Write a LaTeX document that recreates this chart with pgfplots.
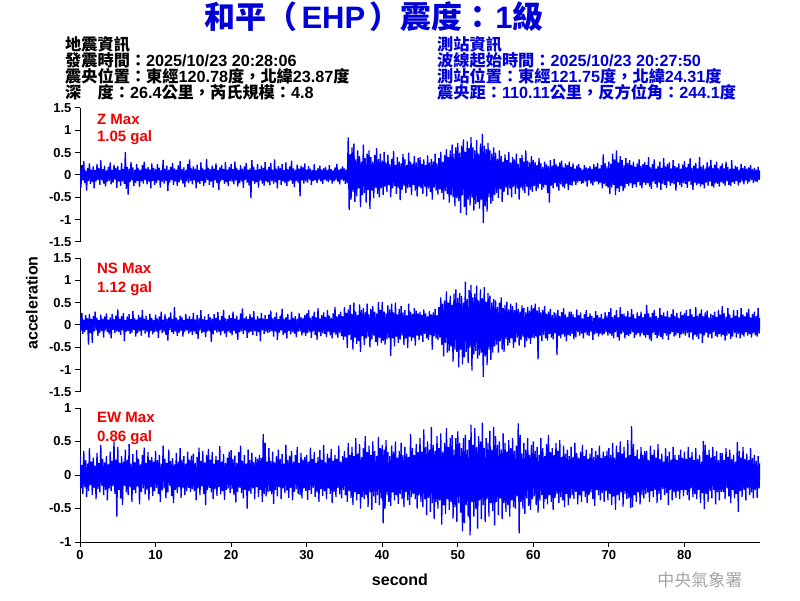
\documentclass[border=0pt]{standalone}
\usepackage{pgfplots}
\pgfplotsset{compat=1.18}
\usepackage{fontspec}
\setmainfont{Liberation Sans}
\newfontfamily\cjk{Noto Sans CJK TC}
\definecolor{tblue}{RGB}{0,0,215}
\definecolor{seisblue}{RGB}{0,0,255}
\definecolor{wm}{RGB}{165,165,165}
\definecolor{lred}{RGB}{240,0,0}
\pgfplotsset{
 panel/.style={scale only axis, width=680pt, height=134pt, xmin=0, xmax=90,
   axis y line*=left, axis line style={-, line width=1pt},
   tick style={black, line width=1pt}, tick align=outside, major tick length=5pt,
   tick label style={font=\fontsize{13}{13}\selectfont\bfseries},
   /pgf/number format/assume math mode=true, xtick={0,10,...,80}},
 seis/.style={color=seisblue, line width=1.3pt, line join=bevel, no markers, sharp plot},
}
\tikzset{lab/.style={anchor=west, text=lred, font=\fontsize{15}{15}\selectfont\bfseries}}
\begin{document}
\begin{tikzpicture}
\path[use as bounding box] (0pt,0pt) rectangle (800pt,600pt);
% title
\node[anchor=base, text=tblue, font=\fontsize{31}{33}\selectfont\bfseries] at (374pt,571pt) {{\cjk 和平（}\hspace{4pt}EHP\hspace{4pt}{\cjk ）震度：}\hspace{2pt}1{\cjk 級}};
% header
\begin{scope}[every node/.style={anchor=base west, inner sep=0pt, text height=12pt, text depth=2pt, font=\fontsize{16.2}{16.2}\selectfont\bfseries}]
\node at (65pt,549pt) {\cjk 地震資訊};
\node at (65pt,533pt) {{\cjk 發震時間：}2025/10/23 20:28:06};
\node at (65pt,517pt) {{\cjk 震央位置：東經}120.78{\cjk 度，北緯}23.87{\cjk 度}};
\node at (65pt,501pt) {{\cjk 深　度：}26.4{\cjk 公里，芮氏規模：}4.8};
\node[text=tblue] at (437pt,549pt) {\cjk 測站資訊};
\node[text=tblue] at (437pt,533pt) {{\cjk 波線起始時間：}2025/10/23 20:27:50};
\node[text=tblue] at (437pt,517pt) {{\cjk 測站位置：東經}121.75{\cjk 度，北緯}24.31{\cjk 度}};
\node[text=tblue] at (437pt,501pt) {{\cjk 震央距：}110.11{\cjk 公里，反方位角：}244.1{\cjk 度}};
\end{scope}
% panel Z
\begin{axis}[panel, at={(80pt,358pt)}, anchor=south west, axis x line=none,
  ymin=-1.5, ymax=1.5, ytick={-1.5,-1,...,1.5}]
\addplot[seis] table[row sep=\\, header=false, x expr=\coordindex*0.125, y index=0] {
0.14\\-0.28\\0.22\\-0.12\\0.31\\-0.18\\0.10\\-0.35\\0.16\\-0.13\\0.26\\-0.20\\0.12\\-0.16\\0.19\\-0.30\\0.11\\-0.14\\0.24\\-0.11\\
0.15\\-0.22\\0.33\\-0.12\\0.13\\-0.19\\0.21\\-0.26\\0.10\\-0.15\\0.18\\-0.13\\0.28\\-0.21\\0.12\\-0.17\\0.23\\-0.10\\0.16\\-0.29\\
0.20\\-0.14\\0.11\\-0.24\\0.27\\-0.15\\0.13\\-0.20\\0.51\\-0.31\\0.18\\-0.44\\0.14\\-0.16\\0.29\\-0.12\\0.17\\-0.25\\0.12\\-0.18\\
0.24\\-0.13\\0.15\\-0.27\\0.11\\-0.14\\0.22\\-0.19\\0.30\\-0.11\\0.14\\-0.21\\0.18\\-0.15\\0.12\\-0.30\\0.26\\-0.13\\0.16\\-0.22\\
0.13\\-0.18\\0.25\\-0.12\\0.16\\-0.28\\0.11\\-0.15\\0.34\\-0.19\\0.14\\-0.13\\0.21\\-0.36\\0.12\\-0.17\\0.18\\-0.11\\0.27\\-0.22\\
0.15\\-0.14\\0.12\\-0.25\\0.22\\-0.16\\0.31\\-0.12\\0.13\\-0.19\\0.17\\-0.27\\0.11\\-0.14\\0.24\\-0.18\\0.35\\-0.13\\0.15\\-0.21\\
0.19\\-0.12\\0.14\\-0.30\\0.23\\-0.16\\0.11\\-0.20\\0.28\\-0.13\\0.15\\-0.24\\0.12\\-0.17\\0.36\\-0.11\\0.16\\-0.22\\0.13\\-0.15\\
0.21\\-0.28\\0.14\\-0.12\\0.26\\-0.18\\0.11\\-0.33\\0.17\\-0.14\\0.22\\-0.11\\0.13\\-0.20\\0.29\\-0.16\\0.12\\-0.25\\0.18\\-0.13\\
0.24\\-0.15\\0.13\\-0.21\\0.30\\-0.12\\0.16\\-0.26\\0.11\\-0.18\\0.22\\-0.14\\0.14\\-0.29\\0.19\\-0.11\\0.27\\-0.17\\0.12\\-0.23\\
0.15\\-0.52\\0.33\\-0.13\\0.18\\-0.20\\0.11\\-0.16\\0.25\\-0.28\\0.13\\-0.12\\0.21\\-0.19\\0.16\\-0.24\\0.29\\-0.14\\0.12\\-0.17\\
0.18\\-0.23\\0.27\\-0.13\\0.12\\-0.19\\0.35\\-0.16\\0.14\\-0.30\\0.20\\-0.11\\0.16\\-0.22\\0.24\\-0.14\\0.11\\-0.18\\0.28\\-0.25\\
0.13\\-0.15\\0.19\\-0.12\\0.32\\-0.20\\0.15\\-0.27\\0.12\\-0.13\\0.23\\-0.17\\0.14\\-0.48\\0.21\\-0.12\\0.17\\-0.19\\0.26\\-0.14\\
0.12\\-0.17\\0.20\\-0.10\\0.14\\-0.22\\0.11\\-0.13\\0.24\\-0.12\\0.10\\-0.18\\0.16\\-0.11\\0.21\\-0.14\\0.12\\-0.20\\0.15\\-0.10\\
0.18\\-0.13\\0.11\\-0.16\\0.22\\-0.12\\0.13\\-0.19\\0.10\\-0.14\\0.17\\-0.11\\0.25\\-0.15\\0.12\\-0.21\\0.14\\-0.10\\0.19\\-0.13\\
0.15\\-0.20\\0.12\\-0.18\\0.84\\-0.78\\0.46\\-0.55\\0.62\\-0.38\\0.70\\-0.60\\0.35\\-0.48\\0.55\\-0.30\\0.42\\-0.72\\0.30\\-0.45\\
0.68\\-0.40\\0.38\\-0.62\\0.48\\-0.33\\0.55\\-0.76\\0.40\\-0.35\\0.30\\-0.52\\0.45\\-0.28\\0.60\\-0.42\\0.36\\-0.50\\0.48\\-0.30\\
0.32\\-0.45\\0.52\\-0.26\\0.28\\-0.38\\0.45\\-0.22\\0.24\\-0.50\\0.36\\-0.30\\0.54\\-0.25\\0.22\\-0.42\\0.40\\-0.28\\0.30\\-0.56\\
0.26\\-0.33\\0.47\\-0.24\\0.35\\-0.40\\0.22\\-0.30\\0.50\\-0.27\\0.30\\-0.45\\0.25\\-0.22\\0.42\\-0.35\\0.28\\-0.48\\0.38\\-0.26\\
0.40\\-0.30\\0.25\\-0.42\\0.35\\-0.26\\0.22\\-0.48\\0.44\\-0.30\\0.28\\-0.38\\0.36\\-0.55\\0.30\\-0.28\\0.48\\-0.35\\0.26\\-0.44\\
0.38\\-0.32\\0.52\\-0.40\\0.30\\-0.55\\0.45\\-0.36\\0.58\\-0.42\\0.40\\-0.62\\0.55\\-0.45\\0.68\\-0.50\\0.48\\-0.70\\0.62\\-0.52\\
0.72\\-0.58\\0.50\\-0.85\\0.66\\-0.45\\0.80\\-0.72\\0.52\\-0.90\\0.75\\-0.55\\0.60\\-0.68\\0.85\\-0.50\\0.62\\-0.80\\0.55\\-0.65\\
0.78\\-0.60\\0.48\\-0.75\\0.70\\-0.55\\0.92\\-1.08\\0.66\\-0.70\\0.58\\-0.82\\0.72\\-0.50\\0.55\\-0.64\\0.48\\-0.58\\0.62\\-0.45\\
0.50\\-0.40\\0.36\\-0.52\\0.55\\-0.32\\0.42\\-0.60\\0.30\\-0.38\\0.46\\-0.28\\0.33\\-0.45\\0.52\\-0.30\\0.28\\-0.50\\0.40\\-0.26\\
0.35\\-0.42\\0.48\\-0.30\\0.25\\-0.55\\0.38\\-0.28\\0.45\\-0.35\\0.30\\-0.40\\0.55\\-0.26\\0.32\\-0.46\\0.28\\-0.33\\0.42\\-0.38\\
0.34\\-0.25\\0.28\\-0.36\\0.22\\-0.30\\0.38\\-0.20\\0.26\\-0.33\\0.18\\-0.28\\0.30\\-0.22\\0.24\\-0.40\\0.20\\-0.62\\0.33\\-0.24\\
0.21\\-0.30\\0.36\\-0.18\\0.25\\-0.27\\0.19\\-0.35\\0.28\\-0.21\\0.32\\-0.26\\0.17\\-0.30\\0.26\\-0.19\\0.22\\-0.34\\0.30\\-0.22\\
0.18\\-0.24\\0.26\\-0.15\\0.14\\-0.22\\0.21\\-0.17\\0.25\\-0.13\\0.16\\-0.20\\0.12\\-0.18\\0.22\\-0.14\\0.17\\-0.26\\0.15\\-0.12\\
0.20\\-0.19\\0.13\\-0.23\\0.24\\-0.16\\0.18\\-0.14\\0.27\\-0.21\\0.15\\-0.17\\0.22\\-0.30\\0.46\\-0.20\\0.26\\-0.25\\0.19\\-0.28\\
0.30\\-0.42\\0.25\\-0.28\\0.48\\-0.22\\0.35\\-0.45\\0.55\\-0.30\\0.28\\-0.38\\0.42\\-0.25\\0.33\\-0.36\\0.22\\-0.30\\0.38\\-0.20\\
0.27\\-0.25\\0.33\\-0.18\\0.22\\-0.29\\0.30\\-0.21\\0.18\\-0.27\\0.26\\-0.16\\0.35\\-0.24\\0.20\\-0.30\\0.24\\-0.17\\0.29\\-0.22\\
0.22\\-0.18\\0.40\\-0.26\\0.17\\-0.31\\0.24\\-0.15\\0.35\\-0.20\\0.14\\-0.28\\0.21\\-0.17\\0.30\\-0.33\\0.16\\-0.19\\0.38\\-0.22\\
0.19\\-0.29\\0.25\\-0.14\\0.28\\-0.24\\0.15\\-0.18\\0.33\\-0.21\\0.20\\-0.35\\0.17\\-0.16\\0.26\\-0.22\\0.14\\-0.27\\0.23\\-0.18\\
0.31\\-0.20\\0.17\\-0.29\\0.24\\-0.15\\0.37\\-0.22\\0.16\\-0.34\\0.21\\-0.17\\0.27\\-0.23\\0.15\\-0.19\\0.40\\-0.26\\0.18\\-0.21\\
0.22\\-0.30\\0.14\\-0.17\\0.28\\-0.24\\0.19\\-0.15\\0.34\\-0.25\\0.16\\-0.28\\0.23\\-0.18\\0.30\\-0.20\\0.15\\-0.26\\0.20\\-0.16\\
0.26\\-0.19\\0.15\\-0.24\\0.30\\-0.14\\0.18\\-0.22\\0.13\\-0.25\\0.33\\-0.16\\0.14\\-0.20\\0.21\\-0.13\\0.18\\-0.23\\0.12\\-0.17\\
0.25\\-0.14\\0.16\\-0.21\\0.20\\-0.12\\0.14\\-0.19\\0.17\\-0.15\\0.22\\-0.11\\0.13\\-0.18\\0.16\\-0.14\\0.12\\-0.16\\0.18\\-0.11\\0.10\\
};
\node[lab] at (rel axis cs:0.02,0.918) {Z Max};
\node[lab] at (rel axis cs:0.02,0.776) {1.05 gal};
\end{axis}
% panel NS
\begin{axis}[panel, at={(80pt,208pt)}, anchor=south west, axis x line=none,
  ymin=-1.5, ymax=1.5, ytick={-1.5,-1,...,1.5}]
\addplot[seis] table[row sep=\\, header=false, x expr=\coordindex*0.125, y index=0] {
0.18\\-0.13\\0.27\\-0.20\\0.12\\-0.16\\0.22\\-0.11\\0.15\\-0.44\\0.25\\-0.18\\0.13\\-0.40\\0.20\\-0.14\\0.30\\-0.12\\0.16\\-0.24\\
0.11\\-0.17\\0.23\\-0.13\\0.14\\-0.28\\0.19\\-0.12\\0.26\\-0.16\\0.12\\-0.21\\0.17\\-0.30\\0.24\\-0.11\\0.13\\-0.18\\0.21\\-0.14\\
0.35\\-0.16\\0.14\\-0.22\\0.20\\-0.12\\0.27\\-0.36\\0.11\\-0.15\\0.19\\-0.13\\0.24\\-0.20\\0.13\\-0.17\\0.31\\-0.11\\0.15\\-0.26\\
0.12\\-0.18\\0.22\\-0.14\\0.17\\-0.24\\0.33\\-0.12\\0.14\\-0.19\\0.20\\-0.15\\0.12\\-0.28\\0.25\\-0.13\\0.16\\-0.21\\0.11\\-0.16\\
0.23\\-0.14\\0.15\\-0.29\\0.19\\-0.12\\0.30\\-0.18\\0.12\\-0.15\\0.24\\-0.22\\0.14\\-0.35\\0.17\\-0.11\\0.28\\-0.16\\0.13\\-0.20\\
0.40\\-0.14\\0.16\\-0.24\\0.12\\-0.17\\0.21\\-0.13\\0.18\\-0.26\\0.11\\-0.15\\0.25\\-0.12\\0.14\\-0.19\\0.20\\-0.16\\0.13\\-0.22\\
0.27\\-0.15\\0.12\\-0.20\\0.22\\-0.31\\0.15\\-0.12\\0.33\\-0.18\\0.13\\-0.16\\0.19\\-0.27\\0.11\\-0.14\\0.25\\-0.13\\0.17\\-0.38\\
0.14\\-0.21\\0.24\\-0.12\\0.16\\-0.17\\0.29\\-0.15\\0.12\\-0.23\\0.20\\-0.13\\0.34\\-0.19\\0.15\\-0.27\\0.13\\-0.14\\0.22\\-0.18\\
0.16\\-0.23\\0.30\\-0.13\\0.14\\-0.19\\0.21\\-0.33\\0.12\\-0.16\\0.26\\-0.14\\0.37\\-0.20\\0.15\\-0.12\\0.19\\-0.29\\0.13\\-0.17\\
0.24\\-0.15\\0.17\\-0.22\\0.31\\-0.13\\0.12\\-0.24\\0.20\\-0.16\\0.15\\-0.36\\0.27\\-0.12\\0.14\\-0.20\\0.22\\-0.15\\0.13\\-0.18\\
0.23\\-0.16\\0.32\\-0.13\\0.15\\-0.26\\0.18\\-0.14\\0.28\\-0.34\\0.13\\-0.17\\0.21\\-0.12\\0.36\\-0.22\\0.14\\-0.18\\0.17\\-0.30\\
0.25\\-0.13\\0.12\\-0.21\\0.30\\-0.16\\0.16\\-0.19\\0.20\\-0.27\\0.13\\-0.15\\0.26\\-0.14\\0.18\\-0.23\\0.15\\-0.17\\0.22\\-0.25\\
0.26\\-0.18\\0.34\\-0.15\\0.16\\-0.29\\0.20\\-0.14\\0.30\\-0.22\\0.17\\-0.33\\0.38\\-0.16\\0.14\\-0.25\\0.22\\-0.18\\0.28\\-0.20\\
0.18\\-0.27\\0.33\\-0.15\\0.21\\-0.23\\0.16\\-0.30\\0.26\\-0.17\\0.40\\-0.22\\0.19\\-0.28\\0.24\\-0.18\\0.30\\-0.25\\0.20\\-0.33\\
0.40\\-0.26\\0.27\\-0.52\\0.35\\-0.22\\0.45\\-0.34\\0.25\\-0.55\\0.50\\-0.28\\0.30\\-0.42\\0.22\\-0.36\\0.46\\-0.60\\0.33\\-0.25\\
0.38\\-0.45\\0.28\\-0.30\\0.48\\-0.26\\0.24\\-0.50\\0.36\\-0.32\\0.42\\-0.24\\0.30\\-0.38\\0.26\\-0.46\\0.52\\-0.28\\0.34\\-0.40\\
0.52\\-0.36\\0.30\\-0.44\\0.26\\-0.32\\0.44\\-0.28\\0.35\\-0.69\\0.48\\-0.30\\0.28\\-0.48\\0.50\\-0.26\\0.24\\-0.40\\0.36\\-0.32\\
0.42\\-0.24\\0.28\\-0.45\\0.34\\-0.30\\0.22\\-0.52\\0.48\\-0.26\\0.30\\-0.36\\0.25\\-0.28\\0.38\\-0.46\\0.32\\-0.24\\0.26\\-0.34\\
0.30\\-0.24\\0.22\\-0.38\\0.35\\-0.20\\0.26\\-0.30\\0.20\\-0.33\\0.31\\-0.22\\0.24\\-0.55\\0.28\\-0.25\\0.36\\-0.30\\0.22\\-0.34\\
0.40\\-0.28\\0.62\\-0.45\\0.48\\-0.70\\0.55\\-0.40\\0.75\\-0.62\\0.50\\-0.58\\0.66\\-0.48\\0.45\\-0.82\\0.70\\-0.55\\0.80\\-0.60\\
0.60\\-0.95\\0.72\\-0.55\\0.65\\-0.88\\0.50\\-0.72\\0.97\\-0.60\\0.58\\-0.85\\0.78\\-0.50\\0.90\\-1.02\\0.62\\-0.66\\0.70\\-0.58\\
0.88\\-0.75\\0.55\\-0.68\\0.80\\-0.62\\0.60\\-1.16\\0.85\\-0.70\\0.52\\-0.90\\0.72\\-0.55\\0.66\\-0.78\\0.50\\-0.62\\0.58\\-0.48\\
0.55\\-0.44\\0.40\\-0.62\\0.50\\-0.36\\0.62\\-0.55\\0.38\\-0.60\\0.45\\-0.32\\0.52\\-0.46\\0.35\\-0.40\\0.48\\-0.30\\0.42\\-0.52\\
0.33\\-0.38\\0.50\\-0.28\\0.36\\-0.46\\0.30\\-0.34\\0.44\\-0.26\\0.38\\-0.50\\0.28\\-0.36\\0.40\\-0.30\\0.32\\-0.42\\0.45\\-0.28\\
0.38\\-0.30\\0.48\\-0.26\\0.32\\-0.77\\0.40\\-0.24\\0.28\\-0.36\\0.34\\-0.22\\0.42\\-0.30\\0.25\\-0.35\\0.30\\-0.20\\0.36\\-0.28\\
0.22\\-0.32\\0.28\\-0.18\\0.26\\-0.67\\0.34\\-0.24\\0.20\\-0.30\\0.29\\-0.21\\0.38\\-0.26\\0.24\\-0.36\\0.18\\-0.22\\0.30\\-0.25\\
0.30\\-0.20\\0.24\\-0.32\\0.17\\-0.27\\0.35\\-0.16\\0.22\\-0.24\\0.28\\-0.19\\0.15\\-0.30\\0.24\\-0.17\\0.33\\-0.22\\0.18\\-0.25\\
0.26\\-0.15\\0.20\\-0.34\\0.16\\-0.21\\0.31\\-0.18\\0.22\\-0.26\\0.17\\-0.19\\0.25\\-0.23\\0.14\\-0.20\\0.28\\-0.16\\0.21\\-0.24\\
0.29\\-0.19\\0.38\\-0.24\\0.18\\-0.30\\0.22\\-0.16\\0.33\\-0.27\\0.17\\-0.35\\0.40\\-0.20\\0.24\\-0.17\\0.26\\-0.30\\0.19\\-0.22\\
0.31\\-0.25\\0.18\\-0.20\\0.36\\-0.16\\0.24\\-0.29\\0.15\\-0.22\\0.28\\-0.18\\0.20\\-0.26\\0.30\\-0.19\\0.17\\-0.23\\0.25\\-0.28\\
0.45\\-0.22\\0.26\\-0.32\\0.18\\-0.36\\0.27\\-0.17\\0.34\\-0.22\\0.20\\-0.30\\0.16\\-0.24\\0.38\\-0.27\\0.22\\-0.32\\0.28\\-0.18\\
0.19\\-0.24\\0.31\\-0.34\\0.17\\-0.20\\0.24\\-0.16\\0.35\\-0.26\\0.20\\-0.23\\0.27\\-0.18\\0.16\\-0.29\\0.30\\-0.21\\0.22\\-0.19\\
0.27\\-0.24\\0.33\\-0.18\\0.20\\-0.28\\0.36\\-0.17\\0.24\\-0.33\\0.18\\-0.22\\0.40\\-0.26\\0.21\\-0.31\\0.26\\-0.19\\0.35\\-0.40\\
0.19\\-0.23\\0.28\\-0.17\\0.32\\-0.28\\0.17\\-0.21\\0.25\\-0.30\\0.22\\-0.16\\0.30\\-0.25\\0.18\\-0.27\\0.34\\-0.20\\0.23\\-0.26\\
0.42\\-0.22\\0.26\\-0.35\\0.18\\-0.24\\0.38\\-0.19\\0.23\\-0.31\\0.16\\-0.26\\0.34\\-0.18\\0.21\\-0.28\\0.33\\-0.20\\0.17\\-0.30\\
0.38\\-0.22\\0.24\\-0.26\\0.19\\-0.16\\0.28\\-0.24\\0.36\\-0.20\\0.17\\-0.28\\0.25\\-0.18\\0.30\\-0.23\\0.20\\-0.26\\0.38\\-0.19\\0.16\\
};
\node[lab] at (rel axis cs:0.02,0.925) {NS Max};
\node[lab] at (rel axis cs:0.02,0.769) {1.12 gal};
\end{axis}
% panel EW
\begin{axis}[panel, at={(80pt,58pt)}, anchor=south west, axis x line*=bottom,
  ymin=-1, ymax=1, ytick={-1,-0.5,...,1}]
\addplot[seis] table[row sep=\\, header=false, x expr=\coordindex*0.125, y index=0] {
0.30\\-0.20\\0.15\\-0.28\\0.36\\-0.18\\0.22\\-0.33\\0.17\\-0.24\\0.40\\-0.15\\0.20\\-0.30\\0.26\\-0.19\\0.14\\-0.36\\0.33\\-0.21\\
0.18\\-0.26\\0.45\\-0.16\\0.24\\-0.30\\0.19\\-0.22\\0.28\\-0.38\\0.16\\-0.20\\0.35\\-0.24\\0.21\\-0.17\\0.50\\-0.28\\0.23\\-0.62\\
0.42\\-0.22\\0.18\\-0.35\\0.28\\-0.45\\0.20\\-0.16\\0.38\\-0.26\\0.23\\-0.30\\0.46\\-0.18\\0.17\\-0.40\\0.31\\-0.22\\0.19\\-0.27\\
0.37\\-0.17\\0.24\\-0.44\\0.16\\-0.25\\0.30\\-0.20\\0.41\\-0.29\\0.18\\-0.22\\0.34\\-0.38\\0.22\\-0.18\\0.27\\-0.31\\0.20\\-0.24\\
0.36\\-0.19\\0.22\\-0.28\\0.30\\-0.40\\0.17\\-0.23\\0.44\\-0.20\\0.24\\-0.35\\0.18\\-0.26\\0.38\\-0.16\\0.21\\-0.31\\0.25\\-0.42\\
0.16\\-0.22\\0.33\\-0.27\\0.20\\-0.18\\0.40\\-0.34\\0.23\\-0.20\\0.28\\-0.30\\0.17\\-0.24\\0.35\\-0.19\\0.22\\-0.25\\0.29\\-0.21\\
0.32\\-0.24\\0.18\\-0.38\\0.27\\-0.20\\0.41\\-0.30\\0.21\\-0.17\\0.36\\-0.28\\0.19\\-0.45\\0.30\\-0.22\\0.39\\-0.19\\0.23\\-0.26\\
0.34\\-0.36\\0.17\\-0.21\\0.28\\-0.31\\0.22\\-0.18\\0.43\\-0.29\\0.20\\-0.24\\0.31\\-0.37\\0.18\\-0.22\\0.26\\-0.20\\0.35\\-0.27\\
0.37\\-0.21\\0.24\\-0.30\\0.29\\-0.41\\0.18\\-0.25\\0.34\\-0.19\\0.44\\-0.27\\0.21\\-0.35\\0.30\\-0.22\\0.17\\-0.50\\0.38\\-0.24\\
0.22\\-0.28\\0.33\\-0.20\\0.19\\-0.36\\0.27\\-0.18\\0.24\\-0.33\\0.30\\-0.22\\0.25\\-0.40\\0.61\\-0.28\\0.48\\-0.32\\0.20\\-0.26\\
0.40\\-0.24\\0.21\\-0.29\\0.35\\-0.43\\0.19\\-0.22\\0.28\\-0.32\\0.38\\-0.18\\0.24\\-0.36\\0.31\\-0.20\\0.17\\-0.27\\0.45\\-0.23\\
0.22\\-0.34\\0.29\\-0.19\\0.36\\-0.38\\0.20\\-0.25\\0.30\\-0.21\\0.42\\-0.28\\0.18\\-0.30\\0.33\\-0.35\\0.23\\-0.20\\0.27\\-0.24\\
0.30\\-0.37\\0.20\\-0.22\\0.41\\-0.28\\0.24\\-0.19\\0.34\\-0.33\\0.18\\-0.26\\0.27\\-0.40\\0.37\\-0.21\\0.22\\-0.31\\0.45\\-0.24\\
0.19\\-0.36\\0.32\\-0.20\\0.26\\-0.28\\0.39\\-0.42\\0.21\\-0.25\\0.30\\-0.33\\0.24\\-0.19\\0.44\\-0.29\\0.20\\-0.35\\0.28\\-0.22\\
0.36\\-0.30\\0.26\\-0.40\\0.48\\-0.24\\0.30\\-0.34\\0.42\\-0.45\\0.28\\-0.26\\0.55\\-0.38\\0.32\\-0.28\\0.46\\-0.50\\0.27\\-0.33\\
0.40\\-0.36\\0.58\\-0.30\\0.34\\-0.48\\0.44\\-0.26\\0.30\\-0.52\\0.50\\-0.32\\0.36\\-0.42\\0.28\\-0.30\\0.57\\-0.45\\0.40\\-0.35\\
0.45\\-0.72\\0.38\\-0.50\\0.52\\-0.30\\0.34\\-0.40\\0.28\\-0.46\\0.44\\-0.26\\0.35\\-0.38\\0.50\\-0.30\\0.26\\-0.43\\0.36\\-0.28\\
0.48\\-0.36\\0.30\\-0.48\\0.42\\-0.25\\0.32\\-0.38\\0.27\\-0.45\\0.61\\-0.33\\0.40\\-0.28\\0.30\\-0.36\\0.46\\-0.50\\0.34\\-0.30\\
0.55\\-0.40\\0.35\\-0.48\\0.68\\-0.36\\0.42\\-0.60\\0.50\\-0.34\\0.38\\-0.55\\0.72\\-0.42\\0.45\\-0.66\\0.36\\-0.40\\0.58\\-0.50\\
0.40\\-0.38\\0.62\\-0.74\\0.35\\-0.45\\0.48\\-0.58\\0.70\\-0.36\\0.42\\-0.52\\0.55\\-0.40\\0.60\\-0.65\\0.38\\-0.48\\0.55\\-0.70\\
0.65\\-0.42\\0.48\\-0.56\\0.40\\-0.84\\0.55\\-0.72\\0.60\\-0.45\\0.38\\-0.62\\0.52\\-0.90\\0.75\\-0.40\\0.45\\-0.62\\0.70\\-0.50\\
0.42\\-0.80\\0.58\\-0.38\\0.50\\-0.66\\0.78\\-0.45\\0.40\\-0.70\\0.55\\-0.36\\0.48\\-0.62\\0.66\\-0.42\\0.38\\-0.54\\0.72\\-0.75\\
0.58\\-0.40\\0.45\\-0.60\\0.50\\-0.35\\0.38\\-0.66\\0.62\\-0.42\\0.48\\-0.55\\0.35\\-0.45\\0.52\\-0.62\\0.40\\-0.38\\0.55\\-0.48\\
0.36\\-0.50\\0.44\\-0.32\\0.77\\-0.87\\0.60\\-0.40\\0.32\\-0.50\\0.48\\-0.58\\0.38\\-0.35\\0.55\\-0.46\\0.30\\-0.52\\0.45\\-0.36\\
0.50\\-0.32\\0.36\\-0.45\\0.42\\-0.56\\0.30\\-0.38\\0.55\\-0.30\\0.40\\-0.50\\0.28\\-0.36\\0.46\\-0.44\\0.60\\-0.30\\0.34\\-0.40\\
0.40\\-0.52\\0.30\\-0.34\\0.48\\-0.28\\0.36\\-0.42\\0.52\\-0.33\\0.27\\-0.38\\0.44\\-0.48\\0.32\\-0.28\\0.38\\-0.45\\0.28\\-0.35\\
0.42\\-0.30\\0.27\\-0.36\\0.48\\-0.25\\0.33\\-0.44\\0.26\\-0.30\\0.35\\-0.40\\0.45\\-0.24\\0.28\\-0.33\\0.38\\-0.42\\0.24\\-0.30\\
0.32\\-0.26\\0.40\\-0.36\\0.27\\-0.46\\0.36\\-0.22\\0.30\\-0.30\\0.44\\-0.38\\0.25\\-0.27\\0.35\\-0.40\\0.28\\-0.24\\0.36\\-0.38\\
0.40\\-0.28\\0.30\\-0.45\\0.48\\-0.32\\0.26\\-0.52\\0.44\\-0.30\\0.34\\-0.38\\0.50\\-0.26\\0.32\\-0.47\\0.42\\-0.28\\0.26\\-0.36\\
0.52\\-0.34\\0.30\\-0.49\\0.73\\-0.48\\0.46\\-0.30\\0.28\\-0.40\\0.38\\-0.26\\0.24\\-0.44\\0.42\\-0.30\\0.30\\-0.35\\0.36\\-0.28\\
0.36\\-0.26\\0.22\\-0.40\\0.44\\-0.24\\0.30\\-0.33\\0.38\\-0.22\\0.26\\-0.42\\0.46\\-0.28\\0.24\\-0.37\\0.32\\-0.21\\0.20\\-0.30\\
0.40\\-0.27\\0.28\\-0.45\\0.35\\-0.22\\0.23\\-0.38\\0.42\\-0.26\\0.30\\-0.34\\0.22\\-0.24\\0.30\\-0.36\\0.38\\-0.22\\0.25\\-0.32\\
0.35\\-0.22\\0.24\\-0.30\\0.42\\-0.38\\0.26\\-0.20\\0.34\\-0.33\\0.22\\-0.28\\0.40\\-0.36\\0.24\\-0.22\\0.30\\-0.42\\0.20\\-0.27\\
0.51\\-0.51\\0.45\\-0.28\\0.30\\-0.40\\0.38\\-0.24\\0.26\\-0.35\\0.42\\-0.22\\0.28\\-0.44\\0.36\\-0.26\\0.22\\-0.38\\0.33\\-0.25\\
0.33\\-0.25\\0.22\\-0.36\\0.40\\-0.20\\0.27\\-0.32\\0.38\\-0.42\\0.24\\-0.22\\0.30\\-0.35\\0.20\\-0.28\\0.49\\-0.55\\0.36\\-0.24\\
0.26\\-0.33\\0.42\\-0.22\\0.24\\-0.38\\0.32\\-0.20\\0.22\\-0.30\\0.40\\-0.26\\0.25\\-0.35\\0.30\\-0.22\\0.21\\-0.34\\0.28\\-0.20\\0.18\\
};
\node[lab] at (rel axis cs:0.02,0.933) {EW Max};
\node[lab] at (rel axis cs:0.02,0.776) {0.86 gal};
\end{axis}
% axis labels
\node[rotate=90, font=\fontsize{16}{16}\selectfont\bfseries] at (32pt,297pt) {acceleration};
\node[font=\fontsize{16}{16}\selectfont\bfseries] at (400pt,20pt) {second};
% watermark
\node[anchor=east, text=wm, font=\fontsize{17}{17}\selectfont] at (746pt,20pt) {\cjk 中央氣象署};
\end{tikzpicture}
\end{document}
